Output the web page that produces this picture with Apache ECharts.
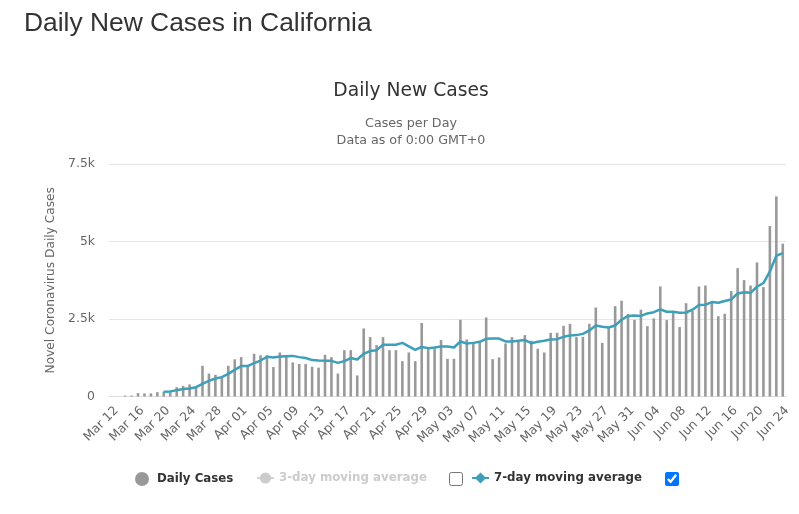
<!DOCTYPE html>
<html>
<head>
<meta charset="utf-8">
<style>
    html, body { margin: 0; padding: 0; background: #fff; }
    #page { position: relative; width: 799px; height: 514px; overflow: hidden; font-family: "Liberation Sans", Arial, sans-serif; }
    #heading { position: absolute; left: 24px; top: 7px; margin: 0; font-size: 26.4px; font-weight: normal; line-height: 30px; color: #333; }
    #main { position: absolute; left: 0; top: 0; width: 799px; height: 514px; }
    .tick { position: absolute; margin: 0; width: 14px; height: 14px; }
</style>
<script src="https://cdn.jsdelivr.net/npm/echarts@6/dist/echarts.min.js"></script>
</head>
<body>
<div id="page">
    <div id="main"></div>
    <h1 id="heading">Daily New Cases in California</h1>
    <input type="checkbox" class="tick" style="left: 449px; top: 472px;">
    <input type="checkbox" class="tick" style="left: 665px; top: 472px;" checked>
</div>
<script>
let categories = [
    "Mar 12", "Mar 13", "Mar 14", "Mar 15", "Mar 16", "Mar 17", "Mar 18", "Mar 19", "Mar 20", "Mar 21",
    "Mar 22", "Mar 23", "Mar 24", "Mar 25", "Mar 26", "Mar 27", "Mar 28", "Mar 29", "Mar 30", "Mar 31",
    "Apr 01", "Apr 02", "Apr 03", "Apr 04", "Apr 05", "Apr 06", "Apr 07", "Apr 08", "Apr 09", "Apr 10",
    "Apr 11", "Apr 12", "Apr 13", "Apr 14", "Apr 15", "Apr 16", "Apr 17", "Apr 18", "Apr 19", "Apr 20",
    "Apr 21", "Apr 22", "Apr 23", "Apr 24", "Apr 25", "Apr 26", "Apr 27", "Apr 28", "Apr 29", "Apr 30",
    "May 01", "May 02", "May 03", "May 04", "May 05", "May 06", "May 07", "May 08", "May 09", "May 10",
    "May 11", "May 12", "May 13", "May 14", "May 15", "May 16", "May 17", "May 18", "May 19", "May 20",
    "May 21", "May 22", "May 23", "May 24", "May 25", "May 26", "May 27", "May 28", "May 29", "May 30",
    "May 31", "Jun 01", "Jun 02", "Jun 03", "Jun 04", "Jun 05", "Jun 06", "Jun 07", "Jun 08", "Jun 09",
    "Jun 10", "Jun 11", "Jun 12", "Jun 13", "Jun 14", "Jun 15", "Jun 16", "Jun 17", "Jun 18", "Jun 19",
    "Jun 20", "Jun 21", "Jun 22", "Jun 23", "Jun 24",
];

let dailyCases = [
    0, 0, 30, 30, 110, 100, 100, 140, 160, 130,
    300, 340, 390, 300, 990, 740, 700, 620, 990, 1200,
    1270, 950, 1380, 1330, 1330, 950, 1420, 1290, 1100, 1050,
    1050, 960, 930, 1345, 1270, 740, 1495, 1495, 680, 2195,
    1915, 1657, 1915, 1495, 1495, 1140, 1420, 1140, 2370, 1550,
    1550, 1820, 1215, 1215, 2475, 1840, 1710, 1745, 2550, 1205,
    1260, 1710, 1915, 1810, 1980, 1800, 1540, 1420, 2055, 2055,
    2280, 2345, 1915, 1925, 2345, 2870, 1730, 2205, 2915, 3090,
    2660, 2475, 2800, 2270, 2520, 3550, 2465, 2755, 2240, 3010,
    2755, 3550, 3580, 3030, 2590, 2670, 3400, 4140, 3755, 3580,
    4325, 3530, 5500, 6455, 4930,
];

let sevenDayAverage = [
    null, null, null, null, null, null, null, null, 150, 160,
    205, 240, 260, 300, 410, 505, 580, 625, 730, 860,
    980, 980, 1075, 1160, 1280, 1260, 1290, 1300, 1310, 1270,
    1240, 1175, 1160, 1150, 1150, 1085, 1140, 1240, 1195, 1380,
    1465, 1495, 1670, 1670, 1670, 1730, 1615, 1505, 1600, 1560,
    1580, 1615, 1615, 1580, 1775, 1710, 1730, 1765, 1860, 1870,
    1870, 1775, 1775, 1800, 1820, 1720, 1765, 1800, 1840, 1850,
    1925, 1970, 1980, 2020, 2130, 2290, 2250, 2225, 2290, 2475,
    2600, 2615, 2600, 2680, 2720, 2810, 2735, 2735, 2700, 2710,
    2800, 2950, 2960, 3045, 3025, 3080, 3130, 3325, 3360, 3345,
    3540, 3660, 4035, 4540, 4625,
];

let yTicks = { max: 7500, interval: 2500 };

let myChart = echarts.init(document.getElementById("main"));

let chartFont = "DejaVu Sans";

let legendText = {
    fontFamily: chartFont,
    fontSize: 11.8,
    fontWeight: "bold",
    color: "#333",
};

let option = {
    animation: false,
    backgroundColor: "#fff",
    textStyle: { fontFamily: chartFont },
    title: [
        {
            text: "Daily New Cases",
            left: 406,
            top: 77,
            textAlign: "center",
            textStyle: { fontFamily: chartFont, fontSize: 18.7, fontWeight: "normal", color: "#333" },
        },
        {
            text: "Cases per Day",
            left: 406,
            top: 112,
            textAlign: "center",
            textStyle: { fontFamily: chartFont, fontSize: 12.7, fontWeight: "normal", color: "#666" },
        },
        {
            text: "Data as of 0:00 GMT+0",
            left: 406,
            top: 129,
            textAlign: "center",
            textStyle: { fontFamily: chartFont, fontSize: 12.7, fontWeight: "normal", color: "#666" },
        },
    ],
    legend: [
        {
            data: [{ name: "Daily Cases", icon: "circle" }],
            left: 130,
            top: 467,
            itemWidth: 14,
            itemHeight: 14,
            itemGap: 0,
            textStyle: { ...legendText, padding: [0, 0, 0, 3] },
        },
        {
            data: ["3-day moving average"],
            left: 251,
            top: 467,
            itemWidth: 17,
            itemHeight: 14,
            inactiveColor: "#ccc",
            selected: { "3-day moving average": false },
            textStyle: legendText,
        },
        {
            data: ["7-day moving average"],
            left: 466,
            top: 467,
            itemWidth: 17,
            itemHeight: 14,
            textStyle: legendText,
        },
    ],
    grid: { left: 109, right: 13, top: 164, bottom: 117.5 },
    xAxis: {
        type: "category",
        data: categories,
        axisTick: { show: false },
        axisLine: { lineStyle: { color: "#ddd" } },
        axisLabel: {
            interval: 3,
            rotate: 45,
            fontSize: 12.4,
            color: "#666",
            margin: 8,
            verticalAlign: "top",
        },
    },
    yAxis: {
        type: "value",
        min: 0,
        max: yTicks.max,
        interval: yTicks.interval,
        name: "Novel Coronavirus Daily Cases",
        nameLocation: "middle",
        nameGap: 52,
        nameTextStyle: { fontSize: 12.2, color: "#666" },
        axisLabel: {
            fontSize: 12.4,
            color: "#666",
            margin: 14,
            formatter: (value) => (value === 0 ? "0" : value / 1000 + "k"),
        },
        splitLine: { lineStyle: { color: "#e6e6e6" } },
    },
    series: [
        {
            name: "Daily Cases",
            type: "bar",
            data: dailyCases,
            barWidth: 2.6,
            itemStyle: { color: "#999" },
        },
        {
            name: "3-day moving average",
            type: "line",
            data: [],
            symbol: "circle",
            itemStyle: { color: "#ccc" },
        },
        {
            name: "7-day moving average",
            type: "line",
            data: sevenDayAverage,
            showSymbol: false,
            symbol: "diamond",
            symbolSize: 8,
            itemStyle: { color: "#3e9fb8" },
            lineStyle: { color: "#3e9fb8", width: 2.5, join: "round" },
        },
    ],
};

myChart.setOption(option);
</script>
</body>
</html>
